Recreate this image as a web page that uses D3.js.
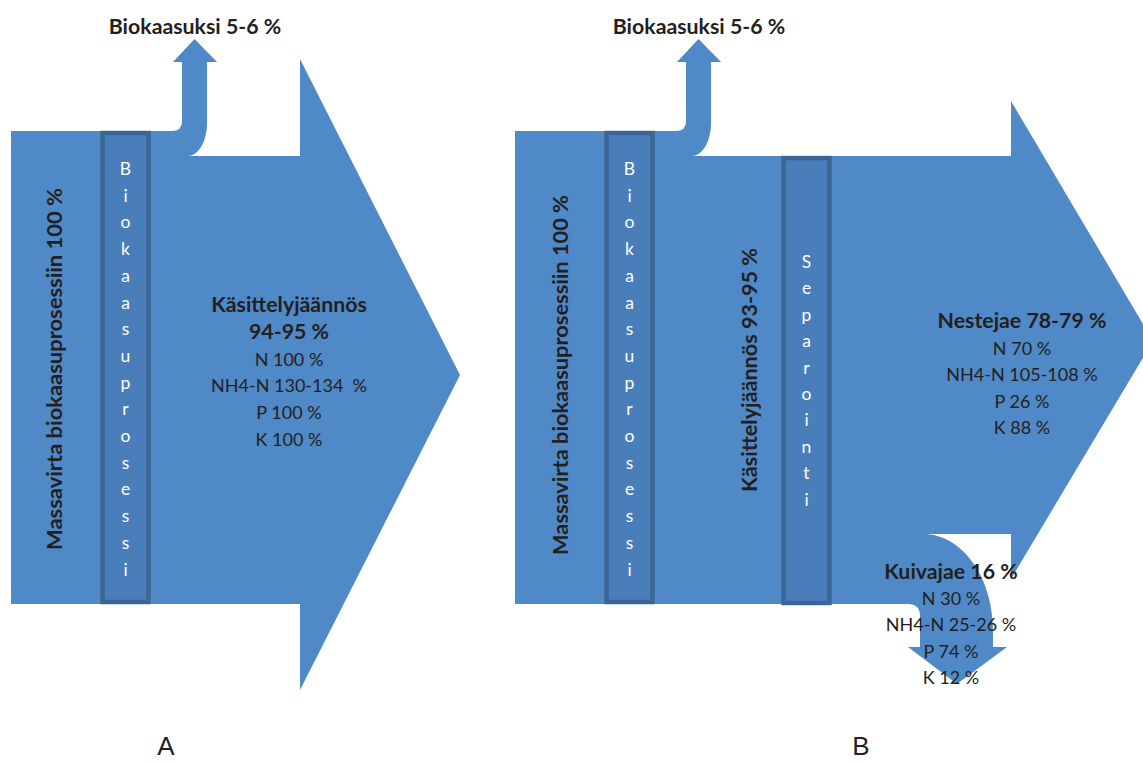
<!DOCTYPE html>
<html>
<head>
<meta charset="utf-8">
<script src="https://cdn.jsdelivr.net/npm/d3@7"></script>
<style>
  html, body { margin: 0; padding: 0; background: #ffffff; }
  svg { display: block; }
  text { font-family: Lato, "Open Sans", sans-serif; fill: #231f20; }
</style>
</head>
<body>
<svg id="chart" width="1143" height="762"></svg>
<script>
// ---------------- data ----------------
const panelLabels = ["A", "B"];
const biogasLabel = "Biokaasuksi 5-6 %";
const inputLabel = "Massavirta biokaasuprosessiin 100 %";
const processWord = "Biokaasuprosessi";
const separationWord = "Separointi";
const residueLinesA = ["Käsittelyjäännös", "94-95 %", "N 100 %", "NH4-N 130-134  %", "P 100 %", "K 100 %"];
const residueLabelB = "Käsittelyjäännös 93-95 %";
const liquidLines = ["Nestejae 78-79 %", "N 70 %", "NH4-N 105-108 %", "P 26 %", "K 88 %"];
const solidLines = ["Kuivajae 16 %", "N 30 %", "NH4-N 25-26 %", "P 74 %", "K 12 %"];
// mass-flow band widths as drawn (share of input stream, %)
const flowInput = 100;
const flowBiogas = 5.3;
const flowLiquid = 80.1;
const flowSolid = 14.8;

// ---------------- layout ----------------
const svg = d3.select("#chart");
const BLUE = "#4f89c7";
const BOX_FILL = "#4a7eba";
const BOX_STROKE = "#3b6592";
const BOLD_SIZE = "21.3px";
const REG_SIZE = "18px";

// vertical scale: share of mass flow -> band position
const y = d3.scaleLinear().domain([0, flowInput]).range([604, 131]);
const w = v => y(0) - y(v);           // band thickness in px

const yTop = y(flowInput);                         // 131
const yRes = y(flowInput - flowBiogas);            // ~156
const ySplit = y(flowSolid);                       // ~534
const yBot = y(0);                                 // 604

function biogasArrow(p, sx) {
  const sw = w(flowBiogas);
  const sr = sx + sw;
  p.lineTo(sx - 10, yTop);
  p.quadraticCurveTo(sx, yTop, sx, yTop - 10);
  p.lineTo(sx, 62);
  p.lineTo(sx - 9, 62);
  p.lineTo(sx + sw / 2, 39);
  p.lineTo(sr + 10, 62);
  p.lineTo(sr, 62);
  p.lineTo(sr, yTop - 9);
  p.bezierCurveTo(sr, yTop + 10, sr - 8, yRes, sr - 20, yRes);
}

// Panel A shape
const pA = d3.path();
pA.moveTo(11, yTop);
biogasArrow(pA, 182);
pA.lineTo(300, yRes);
pA.lineTo(300, 59);
pA.lineTo(460, 375);
pA.lineTo(300, 690);
pA.lineTo(300, yBot);
pA.lineTo(11, yBot);
pA.closePath();

// Panel B shape
const pB = d3.path();
pB.moveTo(515, yTop);
biogasArrow(pB, 686);
pB.lineTo(1011, yRes);
pB.lineTo(1011, 101);
pB.lineTo(1153, 341);
pB.lineTo(1011, 579);
pB.lineTo(1011, ySplit);
pB.lineTo(923, ySplit);
pB.bezierCurveTo(962, ySplit, 993, 577, 993, 630);
pB.lineTo(993, 647);
pB.lineTo(1007, 647);
pB.lineTo(957, 684);
pB.lineTo(908, 647);
pB.lineTo(920, 647);
pB.lineTo(920, yBot + 12);
pB.quadraticCurveTo(920, yBot, 908, yBot);
pB.lineTo(515, yBot);
pB.closePath();

svg.append("path").attr("d", pA.toString()).attr("fill", BLUE);
svg.append("path").attr("d", pB.toString()).attr("fill", BLUE);

// process boxes
const boxes = [
  { x: 102.5, y0: yTop + 2, y1: yBot - 2, word: processWord, first: 175, step: 26.7 },
  { x: 606.5, y0: yTop + 2, y1: yBot - 2, word: processWord, first: 175, step: 26.7 },
  { x: 783.5, y0: yRes + 2, y1: yBot - 1, word: separationWord, first: 268, step: 26.4 }
];
boxes.forEach(b => {
  svg.append("rect")
    .attr("x", b.x).attr("y", b.y0)
    .attr("width", 46).attr("height", b.y1 - b.y0)
    .attr("fill", BOX_FILL).attr("stroke", BOX_STROKE).attr("stroke-width", 4.5);
  const letters = b.word.split("");
  const ly = d3.scaleLinear().domain([0, 1]).range([b.first, b.first + b.step]);
  svg.append("g").selectAll("text").data(letters).join("text")
    .attr("x", b.x + 23)
    .attr("y", (d, i) => ly(i))
    .attr("text-anchor", "middle")
    .style("fill", "#ffffff")
    .style("font-size", "17.5px")
    .text(d => d);
});

// top biogas labels
[[195, biogasLabel], [699, biogasLabel]].forEach(([cx, t]) => {
  svg.append("text").attr("x", cx).attr("y", 34)
    .attr("text-anchor", "middle")
    .style("font-weight", "bold").style("font-size", BOLD_SIZE)
    .text(t);
});

// vertical labels
function vtext(x, cy, t, len) {
  svg.append("text")
    .attr("transform", `translate(${x},${cy}) rotate(-90)`)
    .attr("text-anchor", "middle")
    .attr("textLength", len).attr("lengthAdjust", "spacingAndGlyphs")
    .style("font-weight", "bold").style("font-size", BOLD_SIZE)
    .text(t);
}
vtext(62, 369, inputLabel, 362);
vtext(568, 375, inputLabel, 360);
vtext(757, 370, residueLabelB, 244);

// multi-line blocks
function block(lines, cx, y0, step, boldCount) {
  svg.append("g").selectAll("text").data(lines).join("text")
    .attr("x", cx)
    .attr("y", (d, i) => y0 + i * step)
    .attr("text-anchor", "middle")
    .attr("xml:space", "preserve")
    .style("white-space", "pre")
    .style("font-weight", (d, i) => i < boldCount ? "bold" : "normal")
    .style("font-size", (d, i) => i < boldCount ? BOLD_SIZE : REG_SIZE)
    .text(d => d);
}
block(residueLinesA, 289, 312, 26.8, 2);
block(liquidLines, 1022, 328, 26.5, 1);
block(solidLines, 951, 579, 26.2, 1);

// panel letters
[[166, panelLabels[0]], [861, panelLabels[1]]].forEach(([cx, t]) => {
  svg.append("text").attr("x", cx).attr("y", 755)
    .attr("text-anchor", "middle")
    .style("font-family", "'Liberation Sans', Arial, sans-serif")
    .style("font-size", "26px")
    .text(t);
});
</script>
</body>
</html>
